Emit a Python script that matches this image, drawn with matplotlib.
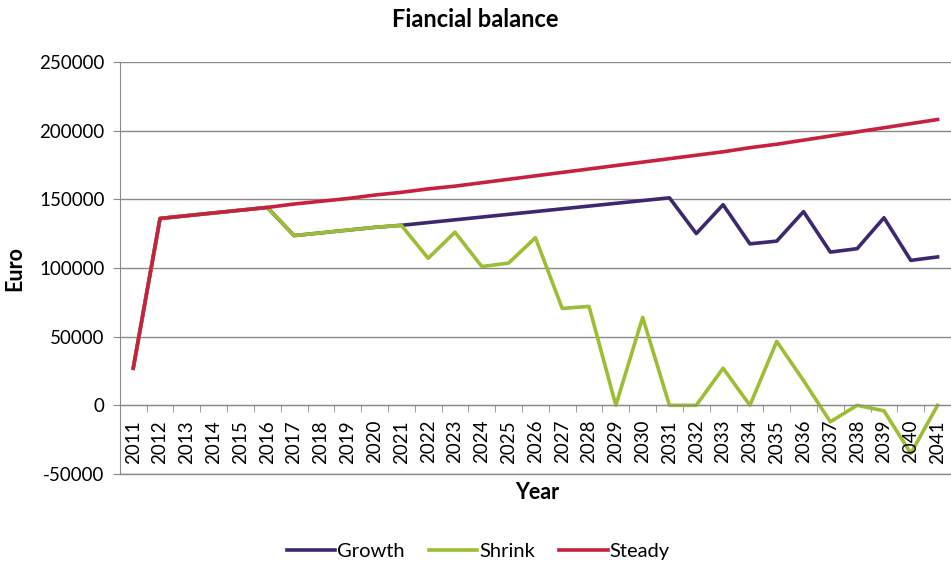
import numpy as np
import matplotlib.pyplot as plt

plt.rcParams['font.family'] = ['Lato', 'DejaVu Sans']

# Yearly financial balance (Euro) for three scenarios
years = list(range(2011, 2042))

growth = [27000, 136000, 138000, 140000, 142000, 144000,
          123500, 125500, 127500, 129500, 131000,
          133000, 135000, 137000, 139000, 141000, 143000, 145000, 147000, 149000, 151000,
          125000, 146000, 117500, 119500, 141000, 111500, 114000, 136500, 105500, 108000]

shrink = [27000, 136000, 138000, 140000, 142000, 144000,
          123500, 125500, 127500, 129500, 131000,
          107000, 126000, 101000, 103500, 122000, 70500, 72000, 0, 64000, 0,
          0, 27000, 0, 46500, 18000, -12000, 0, -4000, -35000, 0]

steady = [27000, 136000, 138000, 140000, 142000, 144000,
          146500, 148500, 150500, 153000, 155000,
          157500, 159500, 162000, 164500, 167000, 169500, 172000, 174500, 177000, 179500,
          182000, 184500, 187500, 190000, 193000, 196000, 199000, 202000, 205000, 208000]

series = [('Growth', growth, '#3d2870'),
          ('Shrink', shrink, '#9dbd35'),
          ('Steady', steady, '#c8203f')]

fig = plt.figure(figsize=(9.51, 5.67), dpi=100)
ax = fig.add_axes([0.126, 0.164, 0.874, 0.727])

x = np.arange(len(years))
for name, vals, col in series:
    ax.plot(x, vals, color=col, lw=2.6, label=name)

ax.set_xlim(-0.5, len(years) - 0.5)
ax.set_ylim(-50000, 250000)
ax.set_yticks(np.arange(-50000, 250001, 50000))
ax.set_yticklabels([str(v) for v in range(-50000, 250001, 50000)], fontsize=13.5)
ax.yaxis.grid(True, color='#8a8a8a', lw=1.0)
ax.set_axisbelow(True)
# bottom gridline sits on the axes edge
ax.axhline(-50000, color='#8a8a8a', lw=1.0, clip_on=False, zorder=0)

# category axis crossing at zero, tick marks between categories
ax.spines['bottom'].set_position(('data', 0))
ax.spines['bottom'].set_color('#8a8a8a')
ax.spines['left'].set_color('#8a8a8a')
ax.spines['top'].set_visible(False)
ax.spines['right'].set_visible(False)
ax.set_xticks([])
ax.set_xticks(x[:-1] + 0.5, minor=True)
ax.tick_params(axis='x', which='minor', length=5, color='#8a8a8a', direction='out')
ax.tick_params(axis='y', length=5, color='#8a8a8a', pad=6)

# year labels hanging below the zero line
for xi, yr in zip(x, years):
    ax.annotate(str(yr), xy=(xi, 0), xytext=(0, -10.5), textcoords='offset points',
                rotation=90, ha='center', va='top', fontsize=13.5)

fig.text(0.565, 0.131, 'Year', fontsize=15.5, fontweight='bold', ha='center', va='center')
fig.text(0.016, 0.527, 'Euro', fontsize=15.5, fontweight='bold', rotation=90,
         ha='center', va='center')
fig.text(0.5, 0.966, 'Fiancial balance', fontsize=17, fontweight='bold',
         ha='center', va='center')

fig.legend(loc='center', bbox_to_anchor=(0.503, 0.027), ncol=3, frameon=False,
           fontsize=14.5, handlelength=2.4, handletextpad=0.1, columnspacing=1.2)

fig.savefig('out.png', dpi=100)
